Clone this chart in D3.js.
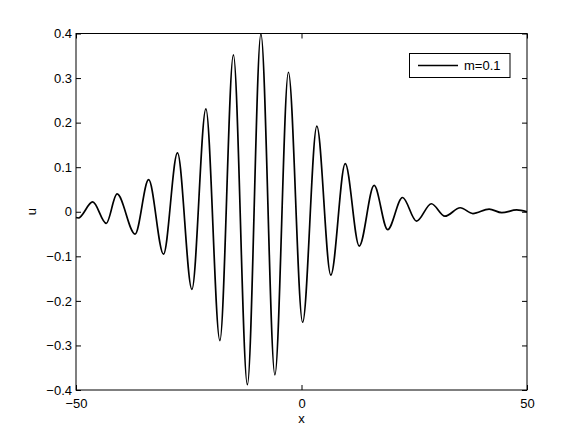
<!DOCTYPE html>
<meta charset="utf-8">
<style>
  body { margin: 0; background: #fff; }
  text { font-family: "Liberation Sans", Arial, sans-serif; font-size: 13px; fill: #000; }
  .axis path { display: none; }
  .axis line { stroke: #000; stroke-width: 1px; }
  .frame { fill: none; stroke: #000; stroke-width: 1px; }
  .curve { fill: none; stroke: #000; stroke-width: 1.7px; }
</style>
<body>
<script src="https://d3js.org/d3.v7.min.js"></script>
<script>
// curve: extrema (and the two ends) of the wave packet
var xs = [-50, -49.5, -46.3, -43.3, -40.9, -36.9, -33.9, -30.6, -27.5, -24.3, -21.2, -18.1,
          -15.1, -12.0, -9.0, -5.9, -2.9, 0.25, 3.4, 6.5, 9.7, 12.8, 16.1, 19.1, 22.4,
          25.5, 28.8, 31.8, 35.2, 38.0, 41.6, 44.4, 47.7, 50];
var us = [-0.013, -0.014, 0.022, -0.026, 0.040, -0.050, 0.072, -0.095, 0.132, -0.174, 0.231, -0.289,
          0.352, -0.388, 0.399, -0.366, 0.313, -0.248, 0.192, -0.142, 0.108, -0.077, 0.059, -0.040, 0.032,
          -0.021, 0.018, -0.010, 0.009, -0.004, 0.006, -0.002, 0.004, 0.000];

var xTicks = [-50, 0, 50];
var uTicks = [-0.4, -0.3, -0.2, -0.1, 0, 0.1, 0.2, 0.3, 0.4];
var seriesName = "m=0.1";

// plot box
var boxL = 76, boxR = 527, boxT = 33.5, boxB = 390;

var svg = d3.select("body").append("svg")
    .attr("width", 582)
    .attr("height", 438);

var x = d3.scaleLinear().domain([-50, 50]).range([boxL, boxR]);
var y = d3.scaleLinear().domain([-0.4, 0.4]).range([boxB, boxT]);

var fmt = function(d) { return d < 0 ? "\u2212" + Math.abs(d) : String(d); };

// axes with inward ticks, labels on left and bottom only
svg.append("g").attr("class", "axis")
    .attr("transform", "translate(" + boxL + ",0)")
    .call(d3.axisLeft(y).tickValues(uTicks).tickSize(-5).tickPadding(4).tickFormat(fmt));

svg.append("g").attr("class", "axis")
    .attr("transform", "translate(" + boxR + ",0)")
    .call(d3.axisRight(y).tickValues(uTicks).tickSize(-5).tickFormat(""));

svg.append("g").attr("class", "axis")
    .attr("transform", "translate(0," + boxB + ")")
    .call(d3.axisBottom(x).tickValues(xTicks).tickSize(-5).tickPadding(9).tickFormat(fmt));

svg.append("g").attr("class", "axis")
    .attr("transform", "translate(0," + boxT + ")")
    .call(d3.axisTop(x).tickValues(xTicks).tickSize(-5).tickFormat(""));

svg.selectAll(".axis text").style("font-family", "Liberation Sans, Arial, sans-serif").style("font-size", "13px");

// the wave
var line = d3.line()
    .x(function(d, i) { return x(xs[i]); })
    .y(function(d, i) { return y(us[i]); })
    .curve(d3.curveMonotoneX);

svg.append("path")
    .attr("class", "curve")
    .attr("d", line(xs));

svg.append("rect")
    .attr("class", "frame")
    .attr("x", boxL).attr("y", boxT)
    .attr("width", boxR - boxL).attr("height", boxB - boxT);

// axis labels
svg.append("text")
    .attr("x", x(0)).attr("y", 422.5)
    .attr("text-anchor", "middle")
    .text("x");

svg.append("text")
    .attr("transform", "translate(36," + y(0) + ") rotate(-90)")
    .attr("text-anchor", "middle")
    .text("u");

// legend
var lg = svg.append("g").attr("transform", "translate(409.5,53.5)");
lg.append("rect")
    .attr("width", 100.5).attr("height", 24)
    .attr("fill", "#fff").attr("stroke", "#000").attr("stroke-width", 1);
lg.append("line")
    .attr("x1", 8.5).attr("x2", 48.5).attr("y1", 12).attr("y2", 12)
    .attr("stroke", "#000").attr("stroke-width", 1.7);
lg.append("text")
    .attr("x", 54.5).attr("y", 12).attr("dy", "0.35em")
    .text(seriesName);
</script>
</body>
